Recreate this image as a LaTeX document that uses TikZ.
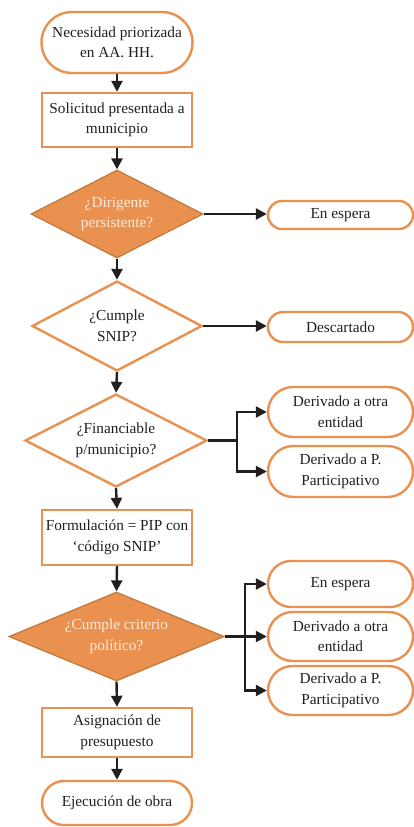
\documentclass[tikz,border=0pt]{standalone}
\usepackage{fontspec}
\setmainfont{Liberation Serif}
\usetikzlibrary{shapes.geometric,shapes.misc,arrows.meta}
\definecolor{orng}{HTML}{EA914F}
\definecolor{orngdk}{HTML}{C47A3C}
\definecolor{ink}{HTML}{231F20}
\definecolor{cream}{HTML}{FCEBDD}
\begin{document}
\begin{tikzpicture}[x=1pt,y=-1pt,
  every node/.style={font=\fontsize{15.3}{20.5}\selectfont, text=ink, align=center},
  term/.style={rounded rectangle, draw=orng, line width=2.4pt, fill=white, minimum width=#1, inner sep=0pt},
  boxx/.style={rectangle, draw=orng, line width=2.4pt, fill=white, minimum width=150pt, inner sep=0pt},
  dia/.style={diamond, draw=orng, line width=2.4pt, fill=white, inner sep=0pt, aspect=2},
  diaf/.style={diamond, draw=orngdk, line width=1.3pt, fill=orng, inner sep=0pt, aspect=2},
  ftxt/.style={text=cream},
  arr/.style={draw=ink, line width=2.4pt, -{Triangle[length=11pt,width=11pt]}},
  ln/.style={draw=ink, line width=2.4pt}
]
\useasboundingbox (0,0) rectangle (414,827);
% main column
\node[term=151pt, minimum height=61pt] (t1) at (117,42.5) {Necesidad priorizada\\en AA. HH.};
\node[boxx, minimum height=54pt] (b1) at (117,120) {Solicitud presentada a\\municipio};
\node[diaf, minimum width=172pt, minimum height=88pt] (d1) at (117,214) {};
\node[ftxt] (d1t) at (d1) {¿Dirigente\\persistente?};
\node[dia, minimum width=170pt, minimum height=90pt] (d2) at (117,326) {};
\node (d2t) at (d2) {¿Cumple\\SNIP?};
\node[dia, minimum width=182pt, minimum height=93pt] (d3) at (116,440.5) {};
\node (d3t) at (d3) {¿Financiable\\p/municipio?};
\node[boxx, minimum height=55pt] (b2) at (117,537.5) {Formulación = PIP con\\‘código SNIP’};
\node[diaf, minimum width=215pt, minimum height=89pt] (d4) at (116.5,636.5) {};
\node[ftxt] (d4t) at (d4) {¿Cumple criterio\\político?};
\node[boxx, minimum height=49pt] (b3) at (117,732.5) {Asignación de\\presupuesto};
\node[term=150pt, minimum height=44pt] (t2) at (117,803) {Ejecución de obra};
% right column
\node[term=145pt, minimum height=28pt] (e1) at (340.5,215) {En espera};
\node[term=145pt, minimum height=30pt] (s1) at (340.5,327) {Descartado};
\node[term=145pt, minimum height=50pt] (r31) at (340.5,412) {Derivado a otra\\entidad};
\node[term=145pt, minimum height=51pt] (r32) at (340.5,471.5) {Derivado a P.\\Participativo};
\node[term=145pt, minimum height=46pt] (r41) at (340.5,584) {En espera};
\node[term=145pt, minimum height=49pt] (r42) at (340.5,636.5) {Derivado a otra\\entidad};
\node[term=145pt, minimum height=49pt] (r43) at (340.5,690.5) {Derivado a P.\\Participativo};
% vertical flow
\draw[arr] (t1.south) -- (b1.north);
\draw[arr] (b1.south) -- (d1.north);
\draw[arr] (d1.south) -- (d2.north);
\draw[arr] (d2.south) -- (d3.north);
\draw[arr] (d3.south) -- (b2.north);
\draw[arr] (b2.south) -- (d4.north);
\draw[arr] (d4.south) -- (b3.north);
\draw[arr] (b3.south) -- (t2.north);
% side branches
\draw[arr] (d1.east) -- (e1.west |- d1.east);
\draw[arr] (d2.east) -- (s1.west |- d2.east);
\coordinate (j3) at (237,440.5);
\draw[ln] (d3.east) -- (j3);
\draw[arr] (j3) |- (r31.west);
\draw[arr] (j3) |- (r32.west);
\coordinate (j4) at (245,636.5);
\draw[arr] (d4.east) -- (r42.west);
\draw[arr] (j4) |- (r41.west);
\draw[arr] (j4) |- (r43.west);
\end{tikzpicture}
\end{document}
